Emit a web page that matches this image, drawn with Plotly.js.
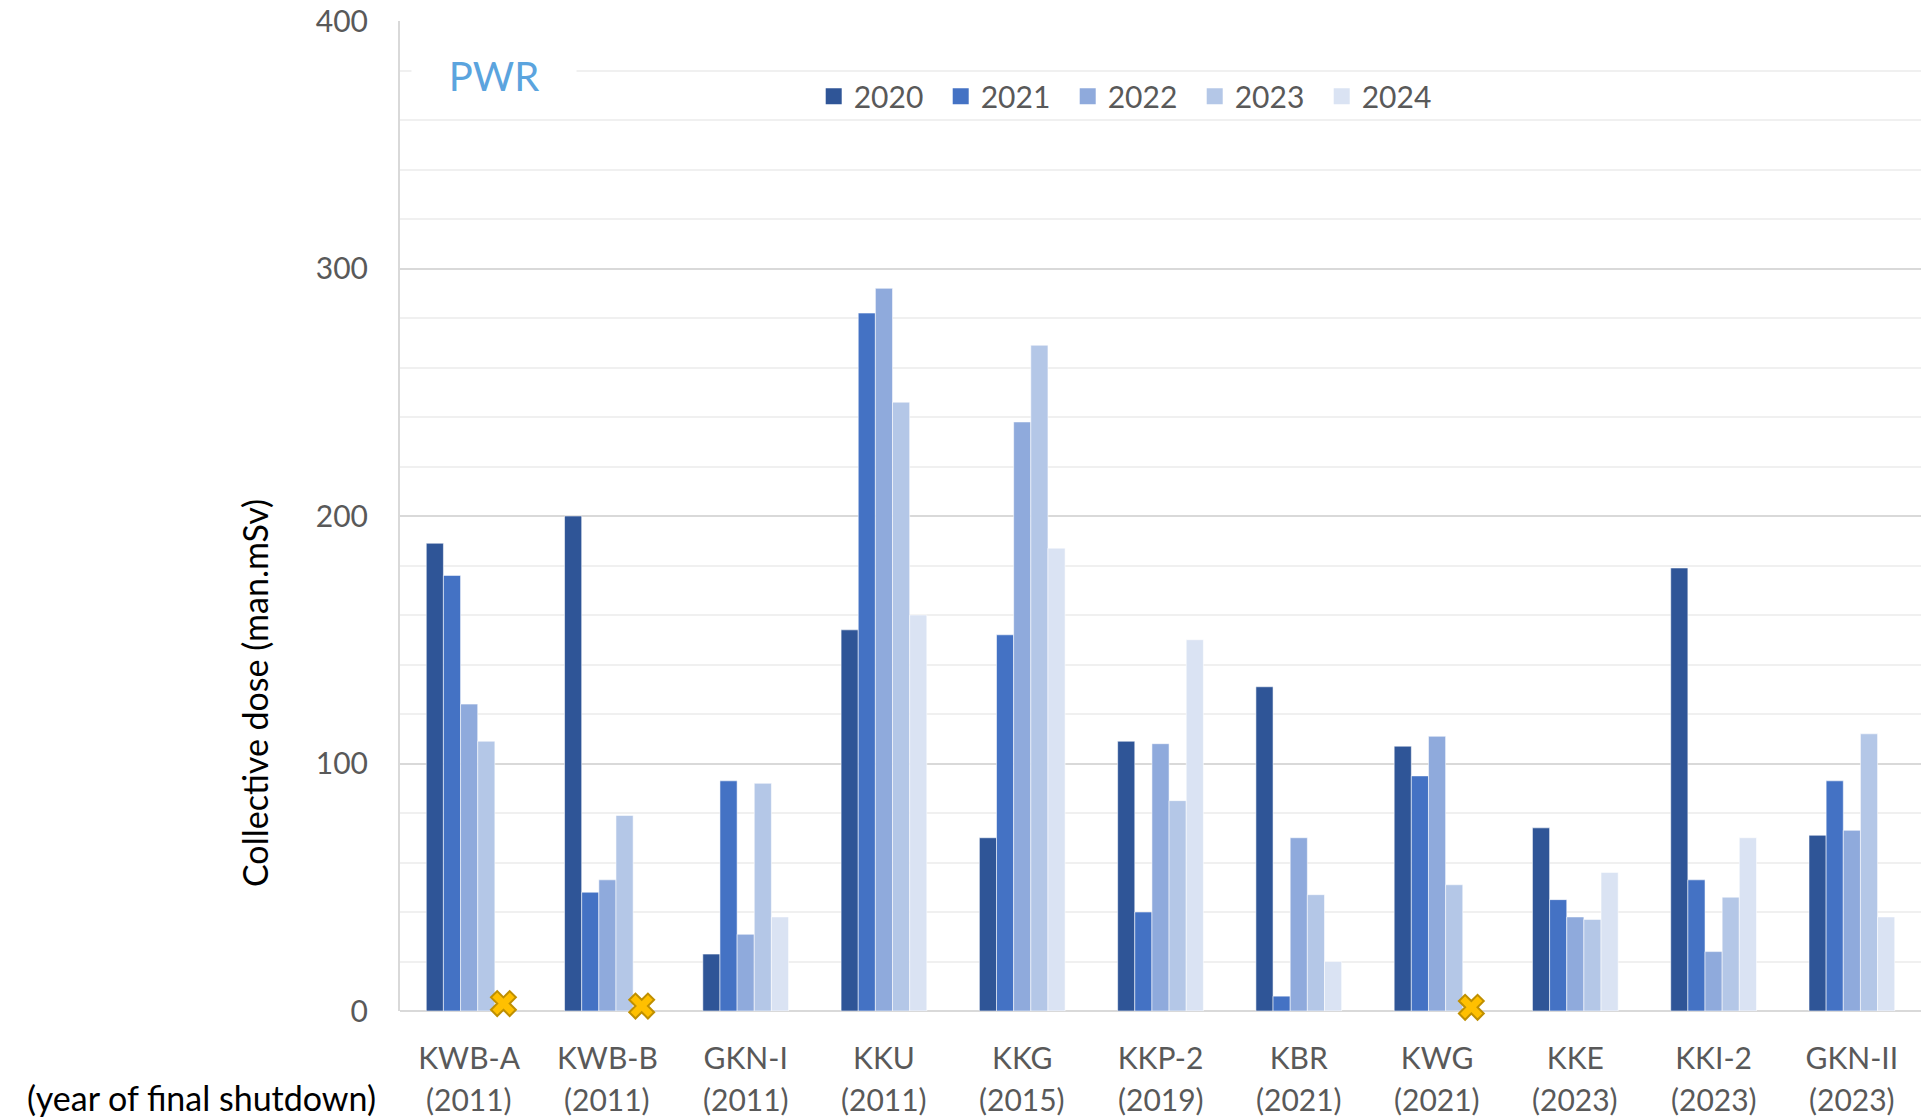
<!DOCTYPE html>
<html>
<head>
<meta charset="utf-8">
<script src="https://cdn.plot.ly/plotly-3.0.1.min.js"></script>
<style>html,body{margin:0;padding:0;background:#fff;}#chart{width:1921px;height:1118px;}</style>
</head>
<body>
<div id="chart"></div>
<script>
const categories = ['KWB-A','KWB-B','GKN-I','KKU','KKG','KKP-2','KBR','KWG','KKE','KKI-2','GKN-II'];
const shutdownYears = ['2011','2011','2011','2011','2015','2019','2021','2021','2023','2023','2023'];
const seriesNames = ['2020','2021','2022','2023','2024'];
const dose2020 = [189, 200, 23, 154, 70, 109, 131, 107, 74, 179, 71];
const dose2021 = [176, 48, 93, 282, 152, 40, 6, 95, 45, 53, 93];
const dose2022 = [124, 53, 31, 292, 238, 108, 70, 111, 38, 24, 73];
const dose2023 = [109, 79, 92, 246, 269, 85, 47, 51, 37, 46, 112];
const dose2024 = [null, null, 38, 160, 187, 150, 20, null, 56, 70, 38];
const noDataCategories = ['KWB-A','KWB-B','KWG'];
const noDataY = [3, 2, 1.5];
const yTicks = [0, 100, 200, 300, 400];

const colors = ['#2F5597','#4472C4','#8FAADC','#B4C7E7','#DAE3F3'];
const FONT = 'Lato, "Open Sans", sans-serif';
const BARGAP = 0.38;
const idx = categories.map((_, i) => i);
const allSeries = [dose2020, dose2021, dose2022, dose2023, dose2024];

const traces = allSeries.map((vals, k) => ({
  type: 'bar',
  name: seriesNames[k],
  legendgroup: seriesNames[k],
  showlegend: false,
  x: idx,
  y: vals,
  marker: {color: colors[k], line: {color: 'rgba(255,255,255,0.55)', width: 1}},
  hoverinfo: 'y+name'
}));

// legend entries (square swatches) linked to the bar series
seriesNames.forEach((n, k) => {
  traces.push({
    type: 'scatter',
    mode: 'markers',
    name: n,
    legendgroup: n,
    x: [null],
    y: [null],
    marker: {symbol: 'square', size: 16, color: colors[k]},
    hoverinfo: 'skip'
  });
});

// position of the 2024 bar within each group (derived from bar layout)
const barW = (1 - BARGAP) / seriesNames.length;
const off2024 = -(1 - BARGAP) / 2 + barW * 4.5;
traces.push({
  type: 'scatter',
  mode: 'markers',
  name: 'no data',
  showlegend: false,
  cliponaxis: false,
  x: noDataCategories.map(c => categories.indexOf(c) + off2024),
  y: noDataY,
  marker: {symbol: 'x', size: 22, color: '#FFC000', line: {color: '#BF8F00', width: 2}},
  hoverinfo: 'skip'
});

const yearAnnotations = shutdownYears.map((yr, i) => ({
  xref: 'x', yref: 'paper', x: i, y: 0,
  xanchor: 'center', yanchor: 'middle',
  yshift: -88,
  text: '(' + yr + ')',
  showarrow: false,
  font: {family: FONT, size: 30, color: '#595959'}
}));

const layout = {
  width: 1921,
  height: 1118,
  margin: {l: 400, r: 0, t: 21, b: 107},
  paper_bgcolor: '#fff',
  plot_bgcolor: '#fff',
  barmode: 'group',
  bargap: BARGAP,
  bargroupgap: 0,
  font: {family: FONT, size: 30, color: '#595959'},
  showlegend: true,
  legend: {
    orientation: 'h',
    x: 0.272, xanchor: 'left',
    y: 0.924, yanchor: 'middle',
    font: {family: FONT, size: 30, color: '#595959'},
    bgcolor: 'rgba(255,255,255,0)',
    traceorder: 'normal',
    itemsizing: 'trace',
    entrywidth: 82,
    entrywidthmode: 'pixels'
  },
  xaxis: {
    range: [-0.5, categories.length - 0.5],
    tickmode: 'array',
    tickvals: idx,
    ticktext: categories,
    tickfont: {family: FONT, size: 30, color: '#595959'},
    showgrid: false,
    zeroline: false,
    showline: false,
    ticks: '',
    ticklabelstandoff: 27,
    fixedrange: true
  },
  yaxis: {
    range: [0, 400],
    tickmode: 'array',
    tickvals: yTicks,
    tickfont: {family: FONT, size: 30, color: '#595959'},
    showgrid: true,
    gridcolor: '#D9D9D9',
    gridwidth: 2,
    minor: {dtick: 20, showgrid: true, gridcolor: '#F0F0F0', gridwidth: 2},
    zeroline: true,
    zerolinecolor: '#D9D9D9',
    zerolinewidth: 2,
    showline: true,
    linecolor: '#D9D9D9',
    linewidth: 2,
    ticks: '',
    ticklabelstandoff: 24,
    fixedrange: true
  },
  annotations: [
    {
      xref: 'paper', yref: 'paper', x: 0, y: 0,
      xanchor: 'right', yanchor: 'middle',
      xshift: -22, yshift: -86,
      text: '(year of final shutdown)',
      showarrow: false,
      font: {family: FONT, size: 34, color: '#000'}
    },
    {
      // y-axis title (placed off-centre, as in the original)
      xref: 'paper', yref: 'paper', x: 0, y: (1011 - 693) / 990,
      xanchor: 'center', yanchor: 'middle',
      xshift: -145,
      textangle: -90,
      text: 'Collective dose (man.mSv)',
      showarrow: false,
      font: {family: FONT, size: 34, color: '#000'}
    },
    {
      xref: 'paper', yref: 'paper', x: (494 - 400) / 1521, y: (1011 - 76) / 990,
      xanchor: 'center', yanchor: 'middle',
      text: '&nbsp;&nbsp;&nbsp;PWR&nbsp;&nbsp;&nbsp;',
      showarrow: false,
      bgcolor: '#fff',
      borderpad: 6,
      font: {family: FONT, size: 40, color: '#5BA4DE'}
    }
  ].concat(yearAnnotations)
};

Plotly.newPlot('chart', traces, layout, {displayModeBar: false, staticPlot: true});
</script>
</body>
</html>
